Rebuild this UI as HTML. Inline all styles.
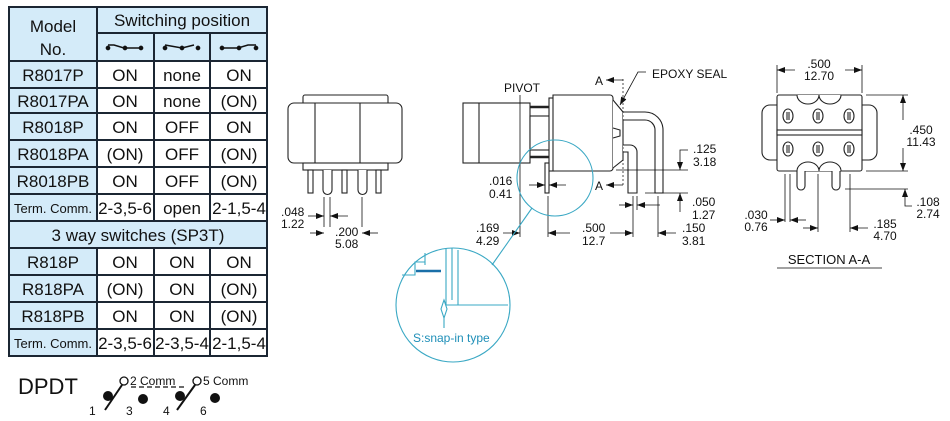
<!DOCTYPE html>
<html><head><meta charset="utf-8"><style>
body{margin:0;background:#fff;width:950px;height:421px;overflow:hidden;position:relative;font-family:"Liberation Sans",Arial,sans-serif}
svg{position:absolute;left:0;top:0}
</style></head><body>
<svg width="950" height="421" viewBox="0 0 950 421" font-family="Liberation Sans, Arial, sans-serif">
<defs>
<marker id="ar" markerWidth="8" markerHeight="6" refX="8" refY="3" orient="auto" markerUnits="userSpaceOnUse"><path d="M0,0 L8,3 L0,6z" fill="#111"/></marker>
</defs>
<!-- TABLE -->
<g>
<rect x="9" y="7" width="258" height="349" fill="#fff"/>
<rect x="9" y="7" width="88" height="349" fill="#d4ebf9"/>
<rect x="97" y="7" width="170" height="54" fill="#d4ebf9"/>
<rect x="9" y="221" width="258" height="27" fill="#d4ebf9"/>
<g stroke="#1b2633" stroke-width="2" fill="none">
<rect x="9" y="7" width="258" height="349"/>
<line x1="97" y1="7" x2="97" y2="221"/><line x1="97" y1="248" x2="97" y2="356"/>
<line x1="154" y1="33" x2="154" y2="221"/><line x1="154" y1="248" x2="154" y2="356"/>
<line x1="210" y1="33" x2="210" y2="221"/><line x1="210" y1="248" x2="210" y2="356"/>
<line x1="97" y1="33" x2="267" y2="33"/>
<line x1="9" y1="61" x2="267" y2="61"/><line x1="9" y1="88" x2="267" y2="88"/><line x1="9" y1="113" x2="267" y2="113"/><line x1="9" y1="140" x2="267" y2="140"/><line x1="9" y1="167" x2="267" y2="167"/><line x1="9" y1="194" x2="267" y2="194"/><line x1="9" y1="221" x2="267" y2="221"/><line x1="9" y1="248" x2="267" y2="248"/><line x1="9" y1="275" x2="267" y2="275"/><line x1="9" y1="302" x2="267" y2="302"/><line x1="9" y1="329" x2="267" y2="329"/>
</g>
<g font-size="17" fill="#111" text-anchor="middle">
<text x="53" y="32">Model</text><text x="53" y="55">No.</text>
<text x="182" y="26">Switching position</text>
<text x="53" y="81">R8017P</text><text x="125" y="81">ON</text><text x="182" y="81">none</text><text x="239" y="81">ON</text>
<text x="53" y="107">R8017PA</text><text x="125" y="107">ON</text><text x="182" y="107">none</text><text x="239" y="107">(ON)</text>
<text x="53" y="133">R8018P</text><text x="125" y="133">ON</text><text x="182" y="133">OFF</text><text x="239" y="133">ON</text>
<text x="53" y="160">R8018PA</text><text x="125" y="160">(ON)</text><text x="182" y="160">OFF</text><text x="239" y="160">(ON)</text>
<text x="53" y="187">R8018PB</text><text x="125" y="187">ON</text><text x="182" y="187">OFF</text><text x="239" y="187">(ON)</text>
<text x="53" y="213" font-size="13">Term. Comm.</text><text x="125" y="214">2-3,5-6</text><text x="182" y="214">open</text><text x="239" y="214">2-1,5-4</text>
<text x="138" y="241">3 way switches (SP3T)</text>
<text x="53" y="268">R818P</text><text x="125" y="268">ON</text><text x="182" y="268">ON</text><text x="239" y="268">ON</text>
<text x="53" y="295">R818PA</text><text x="125" y="295">(ON)</text><text x="182" y="295">ON</text><text x="239" y="295">(ON)</text>
<text x="53" y="322">R818PB</text><text x="125" y="322">ON</text><text x="182" y="322">ON</text><text x="239" y="322">(ON)</text>
<text x="53" y="348" font-size="13">Term. Comm.</text><text x="125" y="349">2-3,5-6</text><text x="182" y="349">2-3,5-4</text><text x="239" y="349">2-1,5-4</text>
</g>
<g stroke="#111" stroke-width="1.5" fill="#111">
<path d="M108,45 L114,45 L124,48 L141,48" fill="none"/><circle cx="108" cy="48" r="1.6"/><circle cx="125" cy="48" r="1.6"/><circle cx="141" cy="48" r="1.6"/>
<path d="M165,45 L182,48 L194,45" fill="none"/><circle cx="165" cy="48" r="1.6"/><circle cx="182" cy="48" r="1.6"/><circle cx="198" cy="48" r="1.6"/>
<path d="M222,48 L238,48 L248,45 L256,45" fill="none"/><circle cx="222" cy="48" r="1.6"/><circle cx="239" cy="48" r="1.6"/><circle cx="256" cy="48" r="1.6"/>
</g>
</g>
<!-- DPDT -->
<text x="18" y="394" font-size="22" fill="#111">DPDT</text>
<g stroke="#111" stroke-width="1.3">
<circle cx="124" cy="381" r="4" fill="#fff"/><circle cx="197" cy="381" r="4" fill="#fff"/>
<line x1="131" y1="387" x2="186" y2="387" stroke-dasharray="5,3"/>
<line x1="105" y1="410" x2="122" y2="385" stroke-width="2"/><line x1="177" y1="410" x2="195" y2="385" stroke-width="2"/>
</g>
<g fill="#111"><circle cx="108" cy="396" r="5"/><circle cx="143" cy="399" r="5"/><circle cx="180" cy="396" r="5"/><circle cx="215" cy="398" r="5"/></g>
<g font-size="12" fill="#111"><text x="130" y="385">2 Comm</text><text x="203" y="385">5 Comm</text>
<text x="89" y="415">1</text><text x="126" y="415">3</text><text x="163" y="415">4</text><text x="200" y="415">6</text></g>

<!-- LEFT VIEW -->
<g stroke="#222" stroke-width="1.1" fill="#fff">
<rect x="303" y="95" width="85" height="12" rx="2"/>
<rect x="288" y="103" width="114" height="60" rx="6"/>
<line x1="315" y1="103" x2="315" y2="163"/><line x1="360" y1="103" x2="360" y2="163"/>
<rect x="303" y="163" width="85" height="7"/>
<rect x="308" y="170" width="5" height="23"/><rect x="342" y="170" width="5" height="23"/><rect x="376" y="170" width="5" height="23"/>
<path d="M323,170 V190 a4.5,4.5 0 0 0 9,0 V170"/><path d="M358,170 V190 a4.5,4.5 0 0 0 9,0 V170"/>
</g>
<g stroke="#111" stroke-width="0.8" fill="none">
<line x1="324" y1="197" x2="324" y2="227"/><line x1="330" y1="197" x2="330" y2="227"/><line x1="362" y1="197" x2="362" y2="227"/>
<line x1="308" y1="216" x2="324" y2="216" marker-end="url(#ar)"/><line x1="348" y1="216" x2="330" y2="216" marker-end="url(#ar)"/>
<line x1="310" y1="233" x2="324" y2="233" marker-end="url(#ar)"/><line x1="378" y1="233" x2="362" y2="233" marker-end="url(#ar)"/>
</g>
<g font-size="12" fill="#111"><text x="281" y="216">.048</text><text x="281" y="228">1.22</text><text x="335" y="236">.200</text><text x="335" y="248">5.08</text></g>

<!-- MIDDLE VIEW -->
<g stroke="#222" stroke-width="1.1" fill="#fff">
<rect x="463" y="103" width="67" height="60"/>
<line x1="479" y1="103" x2="479" y2="163"/>
<rect x="530" y="116" width="23" height="34"/>
<line x1="530" y1="107" x2="553" y2="107" stroke-width="2.5"/><line x1="530" y1="157" x2="553" y2="157" stroke-width="2.5"/>
<rect x="549" y="98" width="5" height="73"/>
<rect x="545" y="163" width="4" height="30"/>
<path d="M553,95 H610 a3,3 0 0 1 3,3 V168 a3,3 0 0 1 -3,3 H553 Z"/>
<path d="M613,100 L623,112 L623,160 L613,168"/>
<path d="M623,112 H645 a18,18 0 0 1 18,18 V193 H655 V130 a10,10 0 0 0 -10,-10 H623"/>
<path d="M623,145 H630 a7,7 0 0 1 7,7 V193 H628 V152 H623"/>
<path d="M613,128 L620,130 L620,136 L613,138"/>
</g>
<line x1="623" y1="79" x2="623" y2="185" stroke="#222" stroke-width="0.8" stroke-dasharray="2,2"/>
<g stroke="#111" stroke-width="0.8" fill="none">
<line x1="623" y1="80" x2="606" y2="80" marker-end="url(#ar)"/><line x1="623" y1="185" x2="606" y2="185" marker-end="url(#ar)"/>
<path d="M646,72 L638,72 L620,105" marker-end="url(#ar)"/>
<line x1="520" y1="95" x2="520" y2="237"/><line x1="548" y1="196" x2="548" y2="237"/>
<line x1="529" y1="185" x2="545" y2="185" marker-end="url(#ar)"/><line x1="566" y1="185" x2="549" y2="185" marker-end="url(#ar)"/>
<line x1="503" y1="233" x2="520" y2="233" marker-end="url(#ar)"/>
<line x1="570" y1="233" x2="548" y2="233" marker-end="url(#ar)"/><line x1="610" y1="233" x2="633" y2="233" marker-end="url(#ar)"/>
<line x1="633" y1="196" x2="633" y2="237"/><line x1="637" y1="196" x2="637" y2="210"/><line x1="658" y1="196" x2="658" y2="237"/>
<line x1="619" y1="205" x2="633" y2="205" marker-end="url(#ar)"/><line x1="660" y1="205" x2="637" y2="205" marker-end="url(#ar)"/>
<line x1="676" y1="233" x2="658" y2="233" marker-end="url(#ar)"/>
<line x1="616" y1="170" x2="688" y2="170"/><path d="M688,150 L680,150 L680,170" marker-end="url(#ar)"/>
<line x1="645" y1="193" x2="688" y2="193"/><path d="M680,212 L680,193" marker-end="url(#ar)"/>
</g>
<g font-size="12" fill="#111">
<text x="504" y="92">PIVOT</text><text x="652" y="78">EPOXY SEAL</text><text x="595" y="85">A</text><text x="595" y="190">A</text>
<text x="489" y="185">.016</text><text x="489" y="198">0.41</text>
<text x="476" y="232">.169</text><text x="476" y="245">4.29</text>
<text x="582" y="232">.500</text><text x="582" y="245">12.7</text>
<text x="682" y="232">.150</text><text x="682" y="245">3.81</text>
<text x="692" y="206">.050</text><text x="692" y="219">1.27</text>
<text x="693" y="153">.125</text><text x="693" y="166">3.18</text>
</g>
<!-- circles detail -->
<g stroke="#3aa8c4" stroke-width="1.1" fill="none">
<circle cx="555" cy="178" r="38"/>
<line x1="532" y1="208" x2="492" y2="265"/>
<circle cx="453" cy="305" r="57"/>
<path d="M402,275 H415 V262 H425 V253 M415,262 V275 M446,248 V305 H508 M452,248 V300 M458,250 V305 M425,265 V258"/>
<path d="M446,305 L444,300 L441,309 L444,318 L447,309 L444,300 M444,318 V328"/>
<text x="413" y="342" font-size="12" fill="#1f8fb8" stroke="none">S:snap-in type</text>
</g>
<line x1="416" y1="271" x2="441" y2="271" stroke="#1a6fa8" stroke-width="2.5"/>

<!-- SECTION A-A -->
<g stroke="#222" stroke-width="1.1" fill="#fff">
<path d="M777,105 H770 a8,8 0 0 0 -8,8 V152 a8,8 0 0 0 8,8 H777"/>
<path d="M862,105 H869 a8,8 0 0 1 8,8 V152 a8,8 0 0 1 -8,8 H862"/>
<rect x="777" y="95" width="85" height="76" rx="2"/>
<path d="M797,95 a11,9 0 0 0 22,0 a11,9 0 0 0 22,0"/>
<path d="M797,171 a11,9 0 0 1 22,0 a11,9 0 0 1 22,0"/>
<rect x="777" y="130" width="85" height="5"/>
<path d="M797,171 V186 a4,4 0 0 0 8,0 V171"/><path d="M832,171 V186 a4,4 0 0 0 8,0 V171"/>
<ellipse cx="788" cy="116" rx="5" ry="7"/><ellipse cx="818" cy="116" rx="5" ry="7"/><ellipse cx="849" cy="116" rx="5" ry="7"/>
<ellipse cx="788" cy="149" rx="5" ry="7"/><ellipse cx="818" cy="149" rx="5" ry="7"/><ellipse cx="849" cy="149" rx="5" ry="7"/>
</g>
<g fill="#888"><rect x="786" y="112" width="4" height="8"/><rect x="816" y="112" width="4" height="8"/><rect x="847" y="112" width="4" height="8"/><rect x="786" y="145" width="4" height="8"/><rect x="816" y="145" width="4" height="8"/><rect x="847" y="145" width="4" height="8"/></g>
<g stroke="#111" stroke-width="0.8" fill="none">
<line x1="777" y1="65" x2="777" y2="93"/><line x1="862" y1="65" x2="862" y2="93"/>
<line x1="795" y1="70" x2="777" y2="70" marker-end="url(#ar)"/><line x1="845" y1="70" x2="862" y2="70" marker-end="url(#ar)"/>
<line x1="866" y1="95" x2="908" y2="95"/><line x1="866" y1="171" x2="908" y2="171"/>
<line x1="903" y1="120" x2="903" y2="95" marker-end="url(#ar)"/><line x1="903" y1="148" x2="903" y2="171" marker-end="url(#ar)"/>
<line x1="785" y1="174" x2="785" y2="222"/><line x1="790" y1="174" x2="790" y2="222"/><line x1="818" y1="174" x2="818" y2="232"/><line x1="850" y1="174" x2="850" y2="232"/>
<line x1="770" y1="220" x2="785" y2="220" marker-end="url(#ar)"/><line x1="806" y1="220" x2="790" y2="220" marker-end="url(#ar)"/>
<line x1="803" y1="228" x2="818" y2="228" marker-end="url(#ar)"/><line x1="868" y1="228" x2="850" y2="228" marker-end="url(#ar)"/>
<line x1="845" y1="189" x2="908" y2="189"/><path d="M912,206 L905,206 L905,189" marker-end="url(#ar)"/>
</g>
<line x1="777" y1="268" x2="882" y2="268" stroke="#444" stroke-width="1"/>
<g font-size="12" fill="#111" text-anchor="middle">
<text x="819" y="68">.500</text><text x="819" y="80">12.70</text>
<text x="921" y="134">.450</text><text x="921" y="146">11.43</text>
<text x="756" y="219">.030</text><text x="756" y="231">0.76</text>
<text x="885" y="228">.185</text><text x="885" y="240">4.70</text>
<text x="928" y="206">.108</text><text x="928" y="218">2.74</text>
<text x="829" y="264" font-size="13">SECTION A-A</text>
</g>
</svg>
</body></html>
